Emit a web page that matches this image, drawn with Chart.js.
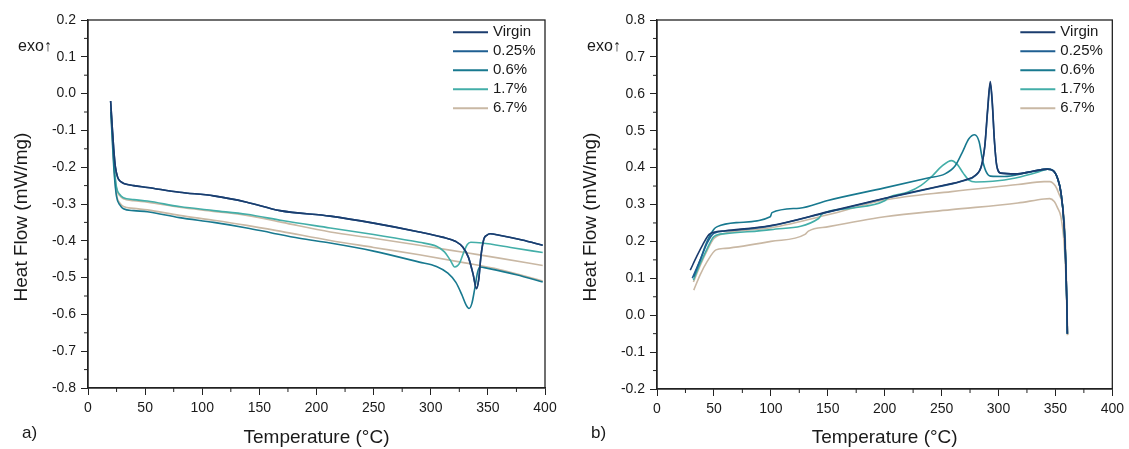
<!DOCTYPE html>
<html>
<head>
<meta charset="utf-8">
<script src="https://cdn.jsdelivr.net/npm/chart.js@4.4.0/dist/chart.umd.min.js"></script>
<style>
  body { margin: 0; background: #fff; width: 1129px; height: 449px; overflow: hidden; position: relative; }
  canvas { position: absolute; top: 0; }
  #chartA { left: 0; }
  #chartB { left: 565px; }
</style>
</head>
<body>
<canvas id="chartA" width="565" height="449"></canvas>
<canvas id="chartB" width="564" height="449"></canvas>
<script>
// Legend labels and colours
const seriesLabels = ['Virgin', '0.25%', '0.6%', '1.7%', '6.7%']
const seriesColors = ['#1b3c6e', '#1f5f92', '#18798f', '#43aea8', '#c9b8a4']

// Panel a) - temperature (°C) and heat flow (mW/mg)
const aVirginT = [19.8, 21, 22.5, 24, 26, 29, 32, 40, 52, 80, 110, 139, 168, 212, 250, 290, 310, 322, 328, 333, 337, 340, 342, 344, 346.5, 349, 352, 360, 380, 398]
const aVirginY = [-0.02, -0.08, -0.15, -0.2, -0.228, -0.24, -0.245, -0.25, -0.255, -0.268, -0.278, -0.295, -0.318, -0.333, -0.352, -0.376, -0.39, -0.402, -0.417, -0.445, -0.49, -0.53, -0.505, -0.44, -0.395, -0.385, -0.381, -0.385, -0.398, -0.412]
const a025T = [19.8, 21, 22.5, 24, 26, 29, 32, 40, 52, 80, 110, 139, 168, 212, 250, 290, 310, 322, 328, 333, 337, 340, 342, 344, 346.5, 349, 352, 360, 380, 398]
const a025Y = [-0.02, -0.08, -0.15, -0.2, -0.228, -0.24, -0.245, -0.25, -0.255, -0.268, -0.278, -0.295, -0.318, -0.333, -0.352, -0.376, -0.39, -0.402, -0.417, -0.445, -0.49, -0.53, -0.505, -0.44, -0.395, -0.385, -0.381, -0.385, -0.398, -0.412]
const a06T = [20, 21.5, 23, 25, 28, 31, 40, 52, 80, 110, 139, 160, 185, 212, 250, 290, 305, 315, 322, 327, 331, 333.5, 336, 338.5, 341, 343, 350, 375, 398]
const a06Y = [-0.05, -0.14, -0.22, -0.28, -0.303, -0.313, -0.318, -0.321, -0.337, -0.35, -0.365, -0.378, -0.393, -0.406, -0.428, -0.458, -0.47, -0.488, -0.513, -0.545, -0.575, -0.584, -0.57, -0.53, -0.485, -0.471, -0.475, -0.492, -0.512]
const a17T = [20, 21.5, 23, 25, 28, 31, 40, 52, 80, 110, 139, 170, 212, 250, 290, 305, 312, 317, 321, 325, 329, 332, 335, 345, 370, 398]
const a17Y = [-0.04, -0.12, -0.2, -0.255, -0.275, -0.283, -0.288, -0.292, -0.307, -0.318, -0.328, -0.345, -0.365, -0.383, -0.404, -0.415, -0.43, -0.452, -0.471, -0.462, -0.43, -0.41, -0.404, -0.406, -0.418, -0.432]
const a67T = [20, 21.5, 23, 25, 28, 31, 40, 52, 80, 110, 139, 170, 212, 250, 290, 330, 360, 398]
const a67Y = [-0.04, -0.12, -0.2, -0.258, -0.278, -0.286, -0.291, -0.295, -0.309, -0.32, -0.331, -0.35, -0.376, -0.393, -0.412, -0.432, -0.447, -0.467]
const a67bT = [20, 21.5, 23, 25, 28, 31, 40, 52, 80, 110, 139, 170, 212, 250, 290, 330, 360, 398]
const a67bY = [-0.05, -0.13, -0.21, -0.275, -0.298, -0.307, -0.312, -0.316, -0.331, -0.344, -0.358, -0.375, -0.399, -0.418, -0.438, -0.46, -0.478, -0.509]

// Panel b)
const bVirginT = [29.2, 35, 40, 45.8, 51.8, 60, 100, 150, 200, 247, 270, 280, 285, 288, 290.5, 292.8, 294.5, 296.5, 298.5, 302, 315, 330, 343, 348, 352, 355, 357.5, 359, 360, 360.5]
const bVirginY = [0.122, 0.16, 0.19, 0.219, 0.226, 0.229, 0.243, 0.28, 0.317, 0.349, 0.366, 0.38, 0.405, 0.46, 0.56, 0.633, 0.58, 0.47, 0.405, 0.385, 0.383, 0.39, 0.396, 0.392, 0.37, 0.33, 0.25, 0.15, 0.04, -0.05]
const b025T = [31, 38, 44, 50, 60, 100, 150, 200, 247, 270, 280, 285, 288, 290.5, 292.8, 294.5, 296.5, 298.5, 302, 315, 330, 343, 348, 352, 355, 357.5, 359, 360, 360.5]
const b025Y = [0.1, 0.15, 0.195, 0.222, 0.228, 0.242, 0.279, 0.316, 0.348, 0.365, 0.379, 0.404, 0.458, 0.555, 0.628, 0.575, 0.468, 0.404, 0.385, 0.383, 0.39, 0.396, 0.392, 0.37, 0.33, 0.25, 0.15, 0.04, -0.05]
const b06T = [32.3, 38, 44, 50, 53, 70, 99.5, 101, 125, 150, 200, 238, 253, 262, 268, 274, 279, 283, 286, 289, 293, 305, 325, 343, 348, 352, 355, 357.5, 359, 360, 360.5]
const b06Y = [0.104, 0.15, 0.2, 0.233, 0.24, 0.251, 0.267, 0.278, 0.29, 0.311, 0.345, 0.372, 0.383, 0.405, 0.44, 0.478, 0.489, 0.47, 0.42, 0.39, 0.377, 0.376, 0.386, 0.396, 0.392, 0.37, 0.33, 0.25, 0.15, 0.04, -0.05]
const b17T = [32, 38, 44, 50, 60, 100, 142, 145, 170, 200, 203, 220, 232, 242, 250, 258.7, 264, 269, 274, 280, 295, 315, 335, 343, 348, 352, 355, 357.5, 359, 360, 360.5]
const b17Y = [0.095, 0.14, 0.18, 0.213, 0.221, 0.232, 0.262, 0.274, 0.29, 0.31, 0.318, 0.333, 0.352, 0.378, 0.403, 0.419, 0.408, 0.385, 0.366, 0.361, 0.363, 0.372, 0.388, 0.396, 0.392, 0.37, 0.33, 0.25, 0.15, 0.04, -0.05]
const b67T = [32, 38, 44, 50, 60, 100, 150, 200, 258.7, 317, 340, 345, 350, 353, 356.4, 358.5, 359.5, 360.7]
const b67Y = [0.09, 0.135, 0.175, 0.208, 0.222, 0.237, 0.272, 0.312, 0.335, 0.354, 0.362, 0.362, 0.35, 0.33, 0.295, 0.22, 0.12, -0.054]
const b67bT = [32.3, 38, 44, 51.8, 60, 100, 130, 133, 150.8, 200, 258.7, 317, 340, 345, 349, 352, 354.8, 357.5, 359.3, 360.7]
const b67bY = [0.068, 0.11, 0.145, 0.177, 0.181, 0.2, 0.219, 0.228, 0.24, 0.267, 0.286, 0.304, 0.315, 0.316, 0.308, 0.29, 0.267, 0.2, 0.1, -0.054]

const FONT = '"Liberation Sans", Arial, sans-serif'

function series(label, color, xs, ys, inLegend) {
  return {
    label,
    data: xs.map((t, i) => ({ x: t, y: ys[i] })),
    borderColor: color,
    borderWidth: 1.6,
    pointRadius: 0,
    fill: false,
    cubicInterpolationMode: 'monotone',
    inLegend: inLegend !== false
  }
}

// frame, minor ticks, legend and free texts
const decorPlugin = {
  id: 'decor',
  afterDraw(chart, args, opts) {
    const ctx = chart.ctx, a = chart.chartArea
    const xs = chart.scales.x, ys = chart.scales.y
    ctx.save()
    ctx.strokeStyle = '#222'
    ctx.lineWidth = 1.3
    ctx.strokeRect(a.left, a.top, a.right - a.left, a.bottom - a.top)

    ctx.lineWidth = 1
    ctx.beginPath()
    for (let t = xs.min + 25; t < xs.max; t += 50) {
      const px = xs.getPixelForValue(t)
      ctx.moveTo(px, a.bottom); ctx.lineTo(px, a.bottom + 4)
    }
    for (let v = ys.min + 0.05; v < ys.max; v += 0.1) {
      const py = ys.getPixelForValue(v)
      ctx.moveTo(a.left, py); ctx.lineTo(a.left - 4, py)
    }
    ctx.stroke()

    // legend
    ctx.font = '15px ' + FONT
    ctx.textBaseline = 'middle'
    ctx.textAlign = 'left'
    let row = 0
    chart.data.datasets.forEach(ds => {
      if (!ds.inLegend) return
      const y = a.top + 12.3 + row * 19
      ctx.strokeStyle = ds.borderColor
      ctx.lineWidth = 2
      ctx.beginPath(); ctx.moveTo(a.right - 92, y); ctx.lineTo(a.right - 57, y); ctx.stroke()
      ctx.fillStyle = '#1a1a1a'
      ctx.fillText(ds.label, a.right - 52, y)
      row++
    })

    // y title, exo arrow, panel letter
    ctx.fillStyle = '#1a1a1a'
    ctx.font = '16px ' + FONT
    ctx.fillText('exo↑', a.left - 70, 47)
    ctx.font = '17px ' + FONT
    ctx.fillText(opts.letter, a.left - 66, 433)
    ctx.translate(a.left - 66, 217)
    ctx.rotate(-Math.PI / 2)
    ctx.textAlign = 'center'
    ctx.font = '19px ' + FONT
    ctx.fillText('Heat Flow (mW/mg)', 0, 0)
    ctx.restore()
  }
}

function makeChart(id, datasets, yMin, yMax, yWidth, xHeight, padRight, letter) {
  return new Chart(document.getElementById(id), {
    type: 'line',
    data: { datasets },
    plugins: [decorPlugin],
    options: {
      responsive: false,
      devicePixelRatio: 1,
      animation: false,
      events: [],
      layout: { padding: { left: 0, top: 20, right: padRight, bottom: 0 } },
      plugins: { legend: { display: false }, tooltip: { enabled: false }, decor: { letter } },
      scales: {
        x: {
          type: 'linear', min: 0, max: 400,
          afterFit: s => { s.height = xHeight },
          ticks: { stepSize: 50, padding: 5, color: '#1a1a1a', font: { size: 14, family: FONT } },
          grid: { drawOnChartArea: false, drawTicks: true, tickLength: 7, color: '#222' },
          border: { color: '#222', width: 1.3 },
          title: { display: true, text: 'Temperature (°C)', color: '#1a1a1a', padding: { top: 0, bottom: 0 }, font: { size: 19, family: FONT } }
        },
        y: {
          type: 'linear', min: yMin, max: yMax,
          afterFit: s => { s.width = yWidth },
          ticks: {
            stepSize: 0.1, padding: 5, color: '#1a1a1a', font: { size: 14, family: FONT },
            callback: v => Math.abs(v) < 1e-9 ? '0.0' : v.toFixed(1)
          },
          grid: { drawOnChartArea: false, drawTicks: true, tickLength: 7, color: '#222' },
          border: { color: '#222', width: 1.3 }
        }
      }
    }
  })
}

const dsA = [
  series(seriesLabels[0], seriesColors[0], aVirginT, aVirginY),
  series(seriesLabels[1], seriesColors[1], a025T, a025Y),
  series(seriesLabels[2], seriesColors[2], a06T, a06Y),
  series(seriesLabels[3], seriesColors[3], a17T, a17Y),
  series(seriesLabels[4], seriesColors[4], a67T, a67Y),
  series(seriesLabels[4], seriesColors[4], a67bT, a67bY, false)
]
const dsB = [
  series(seriesLabels[0], seriesColors[0], bVirginT, bVirginY),
  series(seriesLabels[1], seriesColors[1], b025T, b025Y),
  series(seriesLabels[2], seriesColors[2], b06T, b06Y),
  series(seriesLabels[3], seriesColors[3], b17T, b17Y),
  series(seriesLabels[4], seriesColors[4], b67T, b67Y),
  series(seriesLabels[4], seriesColors[4], b67bT, b67bY, false)
]

makeChart('chartA', dsA, -0.8, 0.2, 88, 61, 20, 'a)')
makeChart('chartB', dsB, -0.2, 0.8, 92, 60, 14, 'b)')
</script>
</body>
</html>
